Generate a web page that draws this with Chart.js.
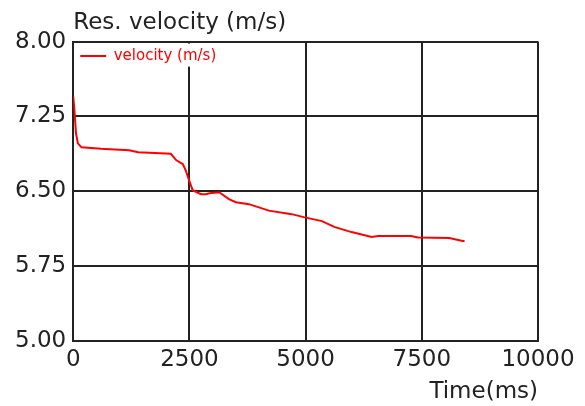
<!DOCTYPE html>
<html>
<head>
<meta charset="utf-8">
<script src="https://cdn.jsdelivr.net/npm/chart.js@4"></script>
<style>
  html, body { margin: 0; padding: 0; background: #fff; }
  #wrap { width: 585px; height: 406px; }
</style>
</head>
<body>
<div id="wrap"><canvas id="velChart" width="585" height="406"></canvas></div>
<script>
// time in ms, resulting velocity in m/s
const timeMs = [0, 20, 60, 100, 180, 600, 1200, 1400, 2100, 2220, 2360, 2420, 2500, 2570,
    2750, 2860, 2930, 3140, 3350, 3500, 3780, 4210, 4700, 4960, 5350, 5630, 5990,
    6420, 6560, 7270, 7420, 8090, 8380, 8420];
const velocity = [7.45, 7.35, 7.08, 6.98, 6.94, 6.925, 6.91, 6.89, 6.875, 6.81, 6.77, 6.71, 6.60, 6.51,
    6.47, 6.47, 6.48, 6.49, 6.42, 6.39, 6.37, 6.305, 6.27, 6.24, 6.20, 6.14, 6.09,
    6.04, 6.05, 6.05, 6.035, 6.03, 6.00, 6.00];

const xTickLabels = ["0", "2500", "5000", "7500", "10000"];
const yTickLabels = ["5.00", "5.75", "6.50", "7.25", "8.00"];

const FONT = "'DejaVu Sans', sans-serif";
const TEXT = "#222";
const LEGEND_FONT = 15;
const LEGEND_PAD = 7;

// put the legend in the top-left corner of the plot, on a white box
const legendInPlot = {
    id: "legendInPlot",
    afterLayout(chart) {
        const lg = chart.legend;
        const a = chart.chartArea;
        if (!lg) return;
        const h = LEGEND_FONT + 10;
        lg.left = a.left;
        lg.top = a.top;
        lg.right = a.left + lg.width;
        lg.height = h;
        lg.bottom = a.top + h;
    },
    beforeDatasetsDraw(chart) {
        const lg = chart.legend;
        if (!lg) return;
        const c = chart.ctx;
        c.save();
        c.fillStyle = "#fff";
        c.fillRect(lg.left + 2, lg.top + 2, lg.width - 2, lg.height - 2);
        c.restore();
        lg.draw();
    }
};

const ctx = document.getElementById("velChart").getContext("2d");

new Chart(ctx, {
    type: "line",
    data: {
        datasets: [{
            label: "velocity (m/s)",
            data: timeMs.map((t, i) => ({ x: t, y: velocity[i] })),
            borderColor: "#ff0000",
            backgroundColor: "#ff0000",
            borderWidth: 2,
            pointRadius: 0,
            tension: 0,
            fill: false
        }]
    },
    options: {
        responsive: false,
        animation: false,
        layout: { padding: { left: 8, right: 47, top: 0, bottom: 0 } },
        plugins: {
            tooltip: { enabled: false },
            title: {
                display: true,
                text: "Res. velocity (m/s)",
                align: "start",
                fullSize: false,
                color: TEXT,
                font: { family: FONT, size: 23, weight: "normal" },
                padding: { top: 9, bottom: 5 }
            },
            legend: {
                position: "chartArea",
                align: "start",
                labels: {
                    color: "#ff0000",
                    font: { family: FONT, size: LEGEND_FONT },
                    usePointStyle: true,
                    pointStyle: "line",
                    pointStyleWidth: 26,
                    boxHeight: LEGEND_FONT,
                    padding: LEGEND_PAD
                }
            }
        },
        scales: {
            x: {
                type: "linear",
                min: 0,
                max: 10000,
                ticks: {
                    stepSize: 2500,
                    color: TEXT,
                    padding: 5,
                    maxRotation: 0,
                    font: { family: FONT, size: 23 },
                    callback: (v) => xTickLabels[Math.round(v / 2500)]
                },
                grid: { color: "#222", lineWidth: 2, drawTicks: false },
                border: { color: "#222", width: 2 },
                title: {
                    display: true,
                    text: "Time(ms)",
                    align: "end",
                    color: TEXT,
                    font: { family: FONT, size: 23 },
                    padding: { top: 0, bottom: 0 }
                }
            },
            y: {
                min: 5,
                max: 8,
                ticks: {
                    stepSize: 0.75,
                    color: TEXT,
                    padding: 7,
                    font: { family: FONT, size: 23 },
                    callback: (v) => yTickLabels[Math.round((v - 5) / 0.75)]
                },
                grid: { color: "#222", lineWidth: 2, drawTicks: false },
                border: { color: "#222", width: 2 }
            }
        }
    },
    plugins: [legendInPlot]
});
</script>
</body>
</html>
